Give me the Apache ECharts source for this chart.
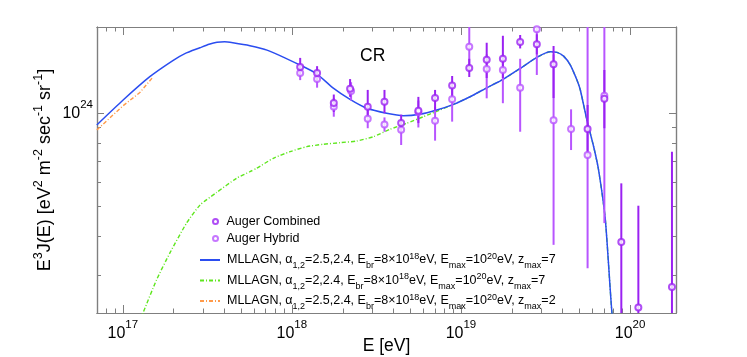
<!DOCTYPE html>
<html>
<head>
<meta charset="utf-8">
<script src="https://cdn.jsdelivr.net/npm/echarts@6.0.0/dist/echarts.min.js"></script>
<style>
  html, body { margin: 0; padding: 0; background: #fff; }
  #chart { width: 747px; height: 357px; }
</style>
</head>
<body>
<div id="chart"></div>
<script>
const FONT = "'Liberation Sans', Arial, Helvetica, sans-serif";
const FRAME = '#7f7f7f';

// axis ranges
const X_MIN = 7.04e16, X_MAX = 1.87e20;
const Y_MIN = 2.265e23, Y_MAX = 1.90e24;

const xMajor = [1e17, 1e18, 1e19, 1e20];
const xMinor = [8e16, 9e16,
  2e17, 3e17, 4e17, 5e17, 6e17, 7e17, 8e17, 9e17,
  2e18, 3e18, 4e18, 5e18, 6e18, 7e18, 8e18, 9e18,
  2e19, 3e19, 4e19, 5e19, 6e19, 7e19, 8e19, 9e19];
const yMajor = [1e24];
const yMinor = [3e23, 4e23, 5e23, 6e23, 7e23, 8e23, 9e23];

// Auger Combined
const combE  = [1.12e18, 1.41e18, 1.77e18, 2.21e18, 2.81e18, 3.53e18, 4.43e18, 5.60e18, 7.03e18, 8.87e18,
                1.12e19, 1.42e19, 1.77e19, 2.24e19, 2.81e19, 3.53e19, 5.61e19, 7.05e19, 8.88e19, 1.12e20, 1.77e20];
const combJ  = [1.41e24, 1.35e24, 1.08e24, 1.20e24, 1.05e24, 1.09e24, 0.93e24, 1.02e24, 1.12e24, 1.23e24,
                1.40e24, 1.49e24, 1.50e24, 1.70e24, 1.67e24, 1.44e24, 0.89e24, 1.115e24, 0.384e24, 0.236e24, 0.275e24];
const combLo = [1.33e24, 1.27e24, 1.01e24, 1.13e24, 0.98e24, 1.00e24, 0.87e24, 0.93e24, 1.02e24, 1.13e24,
                1.31e24, 1.30e24, 1.30e24, 1.62e24, 1.55e24, 1.12e24, 0.735e24, 0.895e24, 0.20e24, 0.10e24, 0.10e24];
const combHi = [1.51e24, 1.42e24, 1.15e24, 1.29e24, 1.19e24, 1.19e24, 0.99e24, 1.13e24, 1.19e24, 1.32e24,
                1.50e24, 1.69e24, 1.78e24, 1.79e24, 1.80e24, 1.65e24, 1.064e24, 1.38e24, 0.594e24, 0.503e24, 0.752e24];

// Auger Hybrid
const hybE  = [1.12e18, 1.41e18, 1.77e18, 2.24e18, 2.81e18, 3.53e18, 4.43e18, 5.60e18, 7.03e18, 8.87e18,
               1.12e19, 1.42e19, 1.77e19, 2.24e19, 2.81e19, 3.53e19, 4.48e19, 5.61e19, 7.05e19];
const hybJ  = [1.35e24, 1.29e24, 1.05e24, 1.18e24, 0.96e24, 0.92e24, 0.885e24, 1.01e24, 0.946e24, 1.11e24,
               1.64e24, 1.39e24, 1.38e24, 1.21e24, 1.87e24, 0.95e24, 0.89e24, 0.734e24, 1.14e24];
const hybLo = [1.28e24, 1.21e24, 0.975e24, 1.10e24, 0.895e24, 0.872e24, 0.79e24, 0.90e24, 0.816e24, 0.94e24,
               1.42e24, 1.118e24, 1.078e24, 0.872e24, 1.33e24, 0.376e24, 0.761e24, 0.316e24, 0.442e24];
const hybHi = [1.43e24, 1.36e24, 1.12e24, 1.26e24, 1.03e24, 0.97e24, 0.95e24, 1.10e24, 1.05e24, 1.20e24,
               1.95e24, 1.55e24, 1.55e24, 1.50e24, 2.10e24, 1.55e24, 1.03e24, 2.50e24, 2.50e24];

// MLLAGN, a=2.5,2.4, zmax=7 (solid blue)
const blueE = [7.02e16, 1.005e17, 1.445e17, 1.977e17, 2.33e17, 2.858e17, 3.24e17, 3.606e17, 4.0e17, 4.477e17,
               5.649e17, 7.129e17,
               1.117e18, 1.409e18, 1.750e18, 2.208e18, 2.786e18, 3.639e18, 4.571e18, 5.728e18, 7.194e18, 9.036e18,
               1.132e19, 1.422e19, 1.786e19, 2.244e19, 2.812e19, 3.373e19, 3.698e19, 4.046e19, 4.436e19, 4.853e19,
               5.082e19, 5.559e19, 6.095e19, 6.516e19, 7.145e19, 7.816e19, 8.299e19];
const blueJ = [0.917e24, 1.104e24, 1.313e24, 1.480e24, 1.559e24, 1.628e24, 1.671e24, 1.697e24, 1.702e24, 1.690e24,
               1.654e24, 1.600e24,
               1.432e24, 1.339e24, 1.209e24, 1.110e24, 1.038e24, 1.000e24, 0.982e24, 0.993e24, 1.025e24, 1.069e24,
               1.131e24, 1.209e24, 1.290e24, 1.397e24, 1.516e24, 1.580e24, 1.573e24, 1.530e24, 1.432e24, 1.281e24,
               1.189e24, 0.951e24, 0.780e24, 0.656e24, 0.453e24, 0.227e24, 0.180e24];

// MLLAGN, a=2,2.4, zmax=7 (green dash-dot)
const greenE = [1.279e17, 1.318e17, 1.585e17, 1.897e17, 2.382e17, 2.858e17, 3.589e17, 4.710e17, 5.649e17, 6.194e17,
                7.762e17, 9.750e17, 1.225e18, 1.535e18, 1.928e18, 2.421e18, 3.034e18, 3.811e18, 4.775e18, 5.998e18,
                7.031e18, 9.036e18, 1.132e19, 1.422e19, 1.786e19, 2.244e19, 2.812e19, 3.373e19, 3.698e19, 4.046e19,
                4.436e19, 4.853e19, 5.082e19, 5.559e19, 6.095e19, 6.516e19, 7.145e19, 7.816e19, 8.299e19];
const greenJ = [0.215e24, 0.2265e24, 0.290e24, 0.3535e24, 0.4417e24, 0.5050e24, 0.5550e24, 0.6171e24, 0.6478e24, 0.6644e24,
                0.7157e24, 0.7517e24, 0.7803e24, 0.7943e24, 0.8038e24, 0.8140e24, 0.8403e24, 0.8881e24, 0.9285e24, 0.9750e24,
                1.010e24, 1.069e24, 1.131e24, 1.209e24, 1.290e24, 1.397e24, 1.516e24, 1.580e24, 1.573e24, 1.530e24,
                1.432e24, 1.281e24, 1.189e24, 0.951e24, 0.780e24, 0.656e24, 0.453e24, 0.227e24, 0.180e24];

// MLLAGN, a=2.5,2.4, zmax=2 (orange dash-dot)
const orangeE = [7.02e16, 1.0e17, 1.262e17, 1.507e17];
const orangeJ = [0.883e24, 1.056e24, 1.167e24, 1.309e24];

const NAME_COMB = 'Auger Combined';
const NAME_HYB = 'Auger Hybrid';
const NAME_BLUE = 'MLLAGN, α1,2=2.5,2.4, Ebr=8×10^18eV, Emax=10^20eV, zmax=7';
const NAME_GREEN = 'MLLAGN, α1,2=2,2.4, Ebr=8×10^18eV, Emax=10^20eV, zmax=7';
const NAME_ORANGE = 'MLLAGN, α1,2=2.5,2.4, Ebr=8×10^18eV, Emax=10^20eV, zmax=2';
const LEGEND_RICH = {};
LEGEND_RICH[NAME_BLUE] = 'MLLAGN, α{sub|1,2}=2.5,2.4, E{sub|br}=8×10{sup|18}eV, E{sub|max}=10{sup|20}eV, z{sub|max}=7';
LEGEND_RICH[NAME_GREEN] = 'MLLAGN, α{sub|1,2}=2,2.4, E{sub|br}=8×10{sup|18}eV, E{sub|max}=10{sup|20}eV, z{sub|max}=7';
LEGEND_RICH[NAME_ORANGE] = 'MLLAGN, α{sub|1,2}=2.5,2.4, E{sub|br}=8×10{sup|18}eV, E{sub|max}=10{sup|20}eV, z{sub|max}=2';

const C_COMB = '#9b22f2';
const C_HYB = '#b855ff';
const C_BLUE = '#2b4df0';
const C_GREEN = '#5fe61e';
const C_ORANGE = '#ff9a4a';

const zip = (a, b) => a.map((v, i) => [v, b[i]]);
const zip3 = (a, b, c) => a.map((v, i) => [v, b[i], c[i]]);

function powLabel(v) {
  const e = Math.round(Math.log10(v));
  return '{b|10}{sup|' + e + '}';
}
const tickRich = {
  b: { fontSize: 16, fontFamily: FONT, color: '#000' },
  sup: { fontSize: 11.5, fontFamily: FONT, color: '#000', padding: [0, 0, 17, 0] }
};

function frameAxis(pos, min, max, ticks, len, labels, extra) {
  return Object.assign({
    type: 'log', logBase: 10, position: pos, min: min, max: max,
    axisLine: { show: true, onZero: false, lineStyle: { color: FRAME, width: 1.2 } },
    axisTick: { show: true, inside: true, length: len, customValues: ticks, lineStyle: { color: FRAME, width: 1 } },
    axisLabel: labels ? {
      show: true, customValues: ticks, formatter: powLabel, rich: tickRich, margin: labels
    } : { show: false },
    minorTick: { show: false },
    splitLine: { show: false }
  }, extra || {});
}

function errorBars(color) {
  return function (params, api) {
    const x = api.value(0);
    const p1 = api.coord([x, api.value(1)]);
    const p2 = api.coord([x, api.value(2)]);
    return {
      type: 'line',
      shape: { x1: p1[0], y1: p1[1], x2: p2[0], y2: p2[1] },
      style: { stroke: color, lineWidth: 2 }
    };
  };
}

const chart = echarts.init(document.getElementById('chart'), null, { renderer: 'canvas' });

chart.setOption({
  animation: false,
  backgroundColor: '#fff',
  textStyle: { fontFamily: FONT },
  grid: { left: 97, right: 71, top: 27, bottom: 44, containLabel: false, outerBoundsMode: 'none' },
  xAxis: [
    frameAxis('bottom', X_MIN, X_MAX, xMajor, 8, 6, {
      name: 'E [eV]', nameLocation: 'middle', nameGap: 24, nameMoveOverlap: false,
      nameTextStyle: { fontSize: 17.5, color: '#000', fontFamily: FONT }
    }),
    frameAxis('bottom', X_MIN, X_MAX, xMinor, 4.5, 0),
    frameAxis('top', X_MIN, X_MAX, xMajor, 8, 0),
    frameAxis('top', X_MIN, X_MAX, xMinor, 4.5, 0)
  ],
  yAxis: [
    frameAxis('left', Y_MIN, Y_MAX, yMajor, 7, 4, {
      name: '{b|E}{sup|3}{b|J(E) [eV}{sup|2}{b| m}{sup|-2}{b| sec}{sup|-1}{b| sr}{sup|-1}{b|]}',
      nameLocation: 'middle', nameGap: 38, nameMoveOverlap: false,
      nameTextStyle: {
        color: '#000',
        rich: {
          b: { fontSize: 18, fontFamily: FONT, color: '#000' },
          sup: { fontSize: 12.5, fontFamily: FONT, color: '#000', padding: [0, 0, 14, 0] }
        }
      }
    }),
    frameAxis('left', Y_MIN, Y_MAX, yMinor, 4, 0),
    frameAxis('right', Y_MIN, Y_MAX, yMajor, 7, 0),
    frameAxis('right', Y_MIN, Y_MAX, yMinor, 4, 0)
  ],
  legend: [
    {
      orient: 'vertical', left: 212, top: 215, padding: 0, itemGap: 4,
      itemWidth: 6, itemHeight: 5, selectedMode: false,
      data: [NAME_COMB, NAME_HYB],
      textStyle: { fontSize: 12.5, fontFamily: FONT, color: '#000', padding: [0, 0, 0, 3] }
    },
    {
      orient: 'vertical', left: 199, top: 252, padding: 0, itemGap: 2,
      itemWidth: 20, itemHeight: 10, selectedMode: false,
      itemStyle: { opacity: 0 },
      data: [NAME_BLUE, NAME_GREEN, NAME_ORANGE],
      formatter: name => LEGEND_RICH[name],
      textStyle: {
        fontSize: 12.5, fontFamily: FONT, color: '#000', padding: [0, 0, 0, 2],
        rich: {
          sub: { fontSize: 9, fontFamily: FONT, color: '#000', padding: [12, 0, 0, 0] },
          sup: { fontSize: 9, fontFamily: FONT, color: '#000', padding: [0, 0, 7, 0] }
        }
      }
    }
  ],
  graphic: [
    {
      type: 'text', left: 360, top: 47, z: 10,
      style: { text: 'CR', fontSize: 17.5, fontFamily: FONT, fill: '#000' }
    }
  ],
  series: [
    {
      name: NAME_GREEN, type: 'line', xAxisIndex: 0, yAxisIndex: 0, z: 2, smooth: 0.2,
      data: zip(greenE, greenJ), showSymbol: false, symbol: 'none',
      lineStyle: { color: C_GREEN, width: 1.4, type: [4, 2, 1, 2] }, itemStyle: { color: C_GREEN }
    },
    {
      name: NAME_ORANGE, type: 'line', xAxisIndex: 0, yAxisIndex: 0, z: 2,
      data: zip(orangeE, orangeJ), showSymbol: false, symbol: 'none',
      lineStyle: { color: C_ORANGE, width: 1.4, type: [4, 2, 1, 2] }, itemStyle: { color: C_ORANGE }
    },
    {
      name: NAME_BLUE, type: 'line', xAxisIndex: 0, yAxisIndex: 0, z: 3, smooth: 0.2,
      data: zip(blueE, blueJ), showSymbol: false, symbol: 'none',
      lineStyle: { color: C_BLUE, width: 1.5 }, itemStyle: { color: C_BLUE }
    },
    {
      type: 'custom', xAxisIndex: 0, yAxisIndex: 0, z: 4, clip: true,
      renderItem: errorBars(C_HYB), encode: { x: 0, y: [1, 2] },
      data: zip3(hybE, hybLo, hybHi)
    },
    {
      type: 'custom', xAxisIndex: 0, yAxisIndex: 0, z: 4, clip: true,
      renderItem: errorBars(C_COMB), encode: { x: 0, y: [1, 2] },
      data: zip3(combE, combLo, combHi)
    },
    {
      name: NAME_HYB, type: 'scatter', xAxisIndex: 0, yAxisIndex: 0, z: 5,
      data: zip(hybE, hybJ), symbol: 'emptyCircle', symbolSize: 6,
      itemStyle: { color: C_HYB, borderColor: C_HYB, borderWidth: 1.5 }
    },
    {
      name: NAME_COMB, type: 'scatter', xAxisIndex: 0, yAxisIndex: 0, z: 5,
      data: zip(combE, combJ), symbol: 'emptyCircle', symbolSize: 6,
      itemStyle: { color: C_COMB, borderColor: C_COMB, borderWidth: 1.5 }
    }
  ]
});
</script>
</body>
</html>
